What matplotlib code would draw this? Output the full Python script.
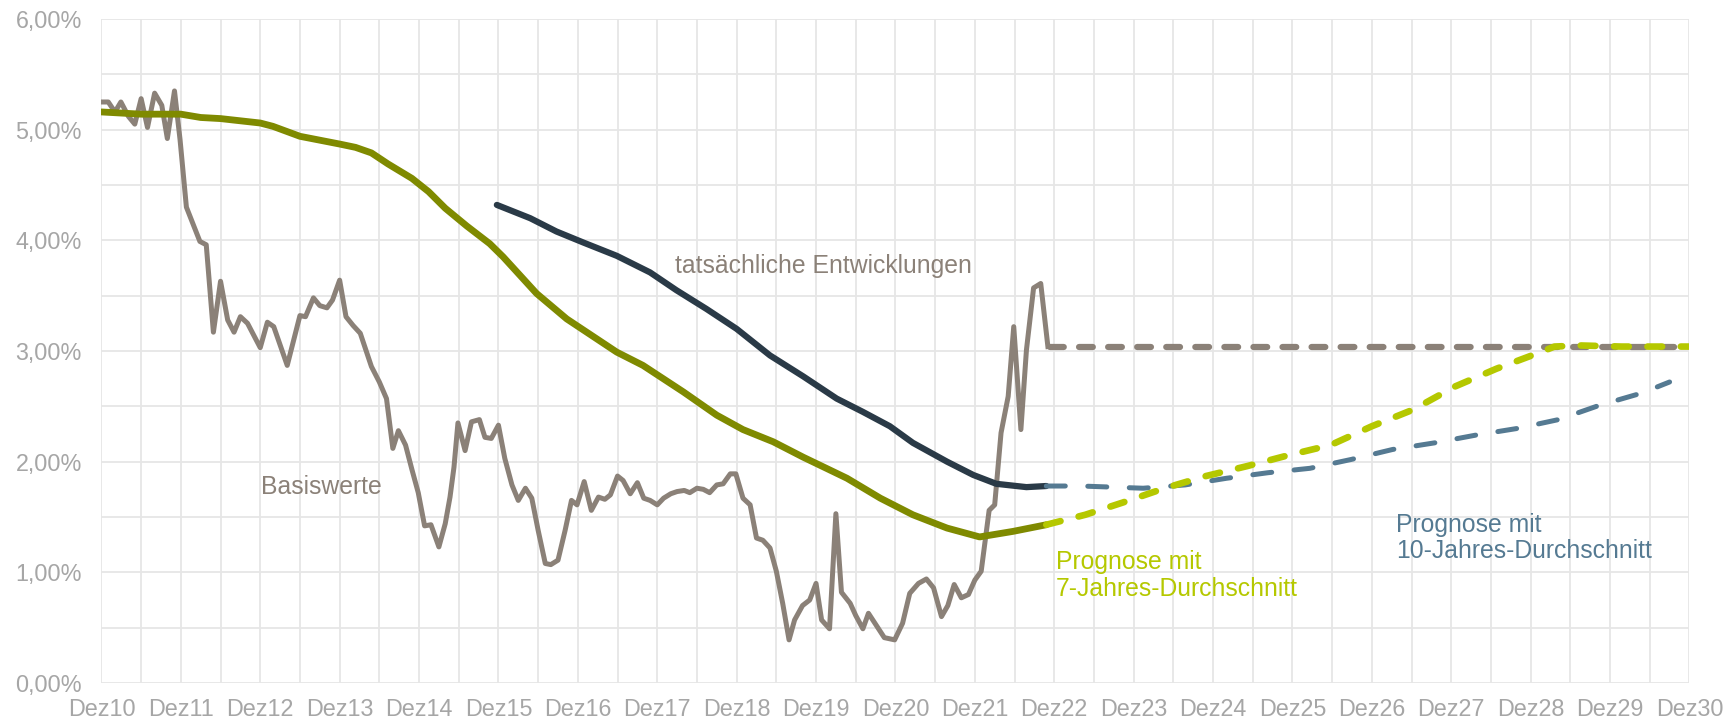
import matplotlib.pyplot as plt
from matplotlib.ticker import MultipleLocator

# x = years since Dec 2010, y = rate in %
basis_t = [0, 0.086, 0.17, 0.245, 0.34, 0.42, 0.50, 0.58, 0.67, 0.76, 0.83, 0.92, 0.99,
           1.07, 1.24, 1.32, 1.41, 1.50, 1.59, 1.67, 1.75, 1.84, 2.00, 2.09, 2.17, 2.34,
           2.50, 2.57, 2.67, 2.75, 2.84, 2.91, 3.00, 3.08, 3.17, 3.26, 3.40, 3.50, 3.59,
           3.67, 3.74, 3.83, 3.91, 3.99, 4.07, 4.15, 4.25,
           4.33, 4.39, 4.44, 4.49, 4.58, 4.66, 4.76, 4.83, 4.91, 5.00, 5.08, 5.17, 5.25,
           5.34, 5.42, 5.50, 5.59, 5.66, 5.75, 5.84, 5.92, 5.99, 6.08, 6.17, 6.26, 6.34,
           6.41, 6.50, 6.57, 6.66, 6.75, 6.83, 6.91, 7.00, 7.08, 7.17, 7.25, 7.34, 7.41,
           7.50, 7.58, 7.66, 7.75, 7.83, 7.92, 7.99, 8.08, 8.17, 8.25, 8.33, 8.42, 8.50,
           8.58, 8.66, 8.73, 8.83, 8.92, 9.00, 9.07, 9.17, 9.25, 9.32, 9.43, 9.50, 9.59,
           9.66, 9.77, 9.86, 9.99, 10.09, 10.18, 10.29, 10.39, 10.48, 10.58, 10.66, 10.74,
           10.83, 10.92, 11.00, 11.08, 11.18, 11.25, 11.33, 11.42, 11.49, 11.58, 11.65,
           11.74, 11.83, 11.92]
basis_v = [5.25, 5.25, 5.16, 5.25, 5.12, 5.05, 5.28, 5.02, 5.33, 5.22, 4.92, 5.35, 4.91,
           4.30, 3.99, 3.96, 3.17, 3.63, 3.28, 3.17, 3.31, 3.25, 3.03, 3.26, 3.22, 2.87,
           3.32, 3.31, 3.48, 3.41, 3.39, 3.46, 3.64, 3.31, 3.23, 3.16, 2.86, 2.72, 2.57,
           2.12, 2.28, 2.15, 1.93, 1.72, 1.42, 1.43, 1.23,
           1.44, 1.68, 1.95, 2.35, 2.10, 2.36, 2.38, 2.22, 2.21, 2.33, 2.03, 1.79, 1.65,
           1.76, 1.67, 1.38, 1.08, 1.07, 1.11, 1.38, 1.65, 1.61, 1.82, 1.56, 1.68, 1.66,
           1.70, 1.87, 1.83, 1.71, 1.81, 1.67, 1.65, 1.61, 1.67, 1.71, 1.73, 1.74, 1.72,
           1.76, 1.75, 1.72, 1.79, 1.80, 1.89, 1.89, 1.67, 1.61, 1.31, 1.29, 1.22, 1.01,
           0.72, 0.39, 0.57, 0.70, 0.75, 0.90, 0.57, 0.49, 1.53, 0.82, 0.72, 0.61, 0.49,
           0.63, 0.51, 0.41, 0.39, 0.54, 0.81, 0.90, 0.94, 0.86, 0.60, 0.70, 0.89,
           0.77, 0.80, 0.93, 1.01, 1.56, 1.61, 2.26, 2.59, 3.22, 2.29, 3.01,
           3.57, 3.61, 3.04]

avg7_t = [0, 0.5, 1.0, 1.25, 1.5, 2.0, 2.16, 2.5, 3.0, 3.2, 3.4, 3.61, 3.91, 4.12, 4.33,
          4.6, 4.89, 5.06, 5.48, 5.86, 6.49, 6.82, 7.33, 7.75, 8.08, 8.46, 8.84, 9.13,
          9.39, 9.81, 10.22, 10.65, 11.06, 11.48, 11.90]
avg7_v = [5.16, 5.14, 5.14, 5.11, 5.10, 5.06, 5.03, 4.94, 4.87, 4.84, 4.79, 4.69, 4.56,
          4.44, 4.29, 4.13, 3.97, 3.85, 3.52, 3.29, 2.99, 2.87, 2.63, 2.42, 2.29, 2.18,
          2.04, 1.94, 1.85, 1.67, 1.52, 1.40, 1.32, 1.37, 1.43]

avg10_t = [4.98, 5.40, 5.73, 6.07, 6.49, 6.91, 7.24, 7.62, 8.0, 8.42, 8.84, 9.26, 9.59,
           9.93, 10.22, 10.65, 10.98, 11.27, 11.65, 11.90]
avg10_v = [4.32, 4.20, 4.08, 3.98, 3.86, 3.71, 3.55, 3.38, 3.20, 2.96, 2.77, 2.57, 2.45,
           2.32, 2.17, 2.00, 1.88, 1.80, 1.77, 1.78]

fc_basis_t = [11.95, 20.0]
fc_basis_v = [3.04, 3.04]

fc7_t = [11.90, 12.39, 12.86, 13.39, 13.91, 14.43, 14.96, 15.48, 16.0, 16.52, 17.05,
         17.57, 18.09, 18.30, 18.62, 19.14, 20.0]
fc7_v = [1.43, 1.52, 1.63, 1.76, 1.87, 1.96, 2.06, 2.15, 2.32, 2.47, 2.68, 2.84, 2.98,
         3.04, 3.05, 3.04, 3.04]

fc10_t = [11.90, 12.34, 13.12, 13.65, 14.17, 14.69, 15.22, 15.74, 16.26, 16.79, 17.31,
          17.83, 18.35, 18.87, 19.40, 19.75]
fc10_v = [1.78, 1.78, 1.76, 1.79, 1.85, 1.90, 1.94, 2.02, 2.11, 2.17, 2.24, 2.30, 2.38,
          2.51, 2.62, 2.72]

year_labels = [f"Dez{y}" for y in range(10, 31)]

# colours
GREY = "#8B8178"
OLIVE = "#7F8A00"
NAVY = "#2A3A47"
LIME = "#B5C800"
SLATE = "#557A92"
TICK = "#A6A6A6"

plt.rcParams["font.family"] = ["Liberation Sans", "DejaVu Sans"]

fig = plt.figure(figsize=(17.34, 7.22), dpi=100)
ax = fig.add_axes([0.0585, 0.054, 0.9158, 0.9197])

ax.plot(basis_t, basis_v, color=GREY, lw=3.6, solid_joinstyle="round", zorder=3)
ax.plot(avg7_t, avg7_v, color=OLIVE, lw=4.9, solid_capstyle="round",
        solid_joinstyle="round", zorder=4)
ax.plot(avg10_t, avg10_v, color=NAVY, lw=4.5, solid_capstyle="round",
        solid_joinstyle="round", zorder=4)

# forecasts
ax.plot(fc_basis_t, fc_basis_v, color=GREY, lw=4.5, dashes=(2.2, 2.45),
        dash_capstyle="round", zorder=3)
ax.plot(fc10_t, fc10_v, color=SLATE, lw=3.6, dashes=(3.8, 4.5),
        dash_capstyle="round", zorder=4)
ax.plot(fc7_t, fc7_v, color=LIME, lw=4.8, dashes=(2.2, 2.8),
        dash_capstyle="round", zorder=5)

ax.set_xlim(0, 20)
ax.set_ylim(0, 6)
ax.xaxis.set_minor_locator(MultipleLocator(0.5))
ax.yaxis.set_minor_locator(MultipleLocator(0.5))
ax.set_xticks(range(len(year_labels)))
ax.set_xticklabels(year_labels)
ax.set_yticks(range(7))
ax.set_yticklabels([f"{v},00%" for v in range(7)])

ax.grid(which="both", color="#E6E6E6", lw=1.3, zorder=0)
ax.set_axisbelow(True)
for s in ax.spines.values():
    s.set_visible(False)
ax.tick_params(which="both", length=0)
ax.tick_params(axis="y", labelsize=16.8, labelcolor=TICK, pad=14)
ax.tick_params(axis="x", labelsize=16.8, labelcolor=TICK, pad=11)

ax.text(7.22, 3.77, "tatsächliche Entwicklungen", color=GREY, fontsize=17.8, va="center")
ax.text(2.01, 1.77, "Basiswerte", color=GREY, fontsize=17.8, va="center")
ax.text(12.02, 0.975, "Prognose mit\n7-Jahres-Durchschnitt", color=LIME, fontsize=17.8,
        va="center", linespacing=1.15)
ax.text(16.3, 1.31, "Prognose mit\n10-Jahres-Durchschnitt", color=SLATE, fontsize=17.8,
        va="center", linespacing=1.15)

fig.savefig("out.png", dpi=100)
